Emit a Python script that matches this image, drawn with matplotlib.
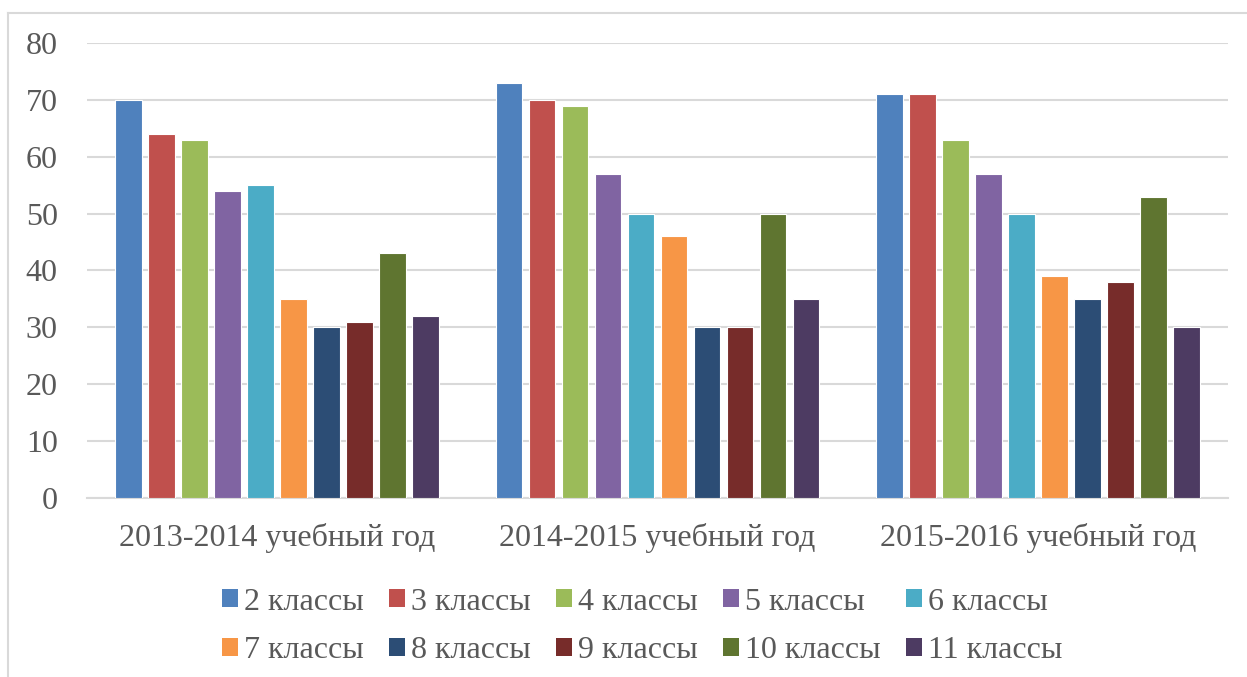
import numpy as np
import matplotlib
matplotlib.use('Agg')
import matplotlib.pyplot as plt
from matplotlib.patches import Patch
from matplotlib.lines import Line2D

plt.rcParams['font.family'] = ['Liberation Serif', 'DejaVu Serif']

years = ['2013-2014 учебный год', '2014-2015 учебный год', '2015-2016 учебный год']
classes = ['2 классы', '3 классы', '4 классы', '5 классы', '6 классы',
           '7 классы', '8 классы', '9 классы', '10 классы', '11 классы']
vals_2013 = [70, 64, 63, 54, 55, 35, 30, 31, 43, 32]
vals_2014 = [73, 70, 69, 57, 50, 46, 30, 30, 50, 35]
vals_2015 = [71, 71, 63, 57, 50, 39, 35, 38, 53, 30]
colors = ['#4F81BD', '#C0504D', '#9BBB59', '#8064A2', '#4BACC6',
          '#F79646', '#2C4D75', '#772C2A', '#5F7530', '#4D3B62']

data = np.array([vals_2013, vals_2014, vals_2015])
txt = '#595959'
grid = '#D9D9D9'

fig = plt.figure(figsize=(12.47, 6.77), dpi=100)
ax = fig.add_axes([0.0698, 0.2644, 0.915, 0.6721])

x = np.arange(len(years))
slot = 0.0868
w = 0.070
for i, c in enumerate(classes):
    ax.bar(x + (i - 4.5) * slot, data[:, i], width=w, color=colors[i],
           edgecolor='white', linewidth=0.8, label=c, zorder=3)

ax.set_xlim(-0.5, 2.5)
ax.set_ylim(0, 80)
ax.set_yticks(range(0, 81, 10))
ax.yaxis.grid(True, color=grid, linewidth=1.5, zorder=0)
for s in ['top', 'right', 'left']:
    ax.spines[s].set_visible(False)
ax.spines['bottom'].set_color(grid)
ax.spines['bottom'].set_linewidth(1.5)
ax.set_xticks(x)
ax.set_xticklabels(years)
ax.tick_params(axis='both', length=0, labelsize=23, colors=txt)
ax.tick_params(axis='x', pad=18)
ax.tick_params(axis='y', pad=21)

handles = [Patch(facecolor=colors[i], edgecolor='none') for i in range(10)]
# order so rows read 2..6 then 7..11
order = []
for col in range(5):
    order += [col, col + 5]
fig.legend([handles[k] for k in order], [classes[k] for k in order],
           ncol=5, loc='center', bbox_to_anchor=(0.515, 0.0746), frameon=False,
           fontsize=23, labelcolor=txt, handlelength=0.5, handleheight=0.5,
           handletextpad=0.18, columnspacing=0.8, labelspacing=0.62)

# chart border (top and left edges visible in the crop)
fig.add_artist(Line2D([0.0064, 0.0064], [0.0, 0.981], transform=fig.transFigure,
                      color=grid, linewidth=1.5))
fig.add_artist(Line2D([0.0064, 1.0], [0.981, 0.981], transform=fig.transFigure,
                      color=grid, linewidth=1.5))

plt.savefig('out.png', dpi=100)
